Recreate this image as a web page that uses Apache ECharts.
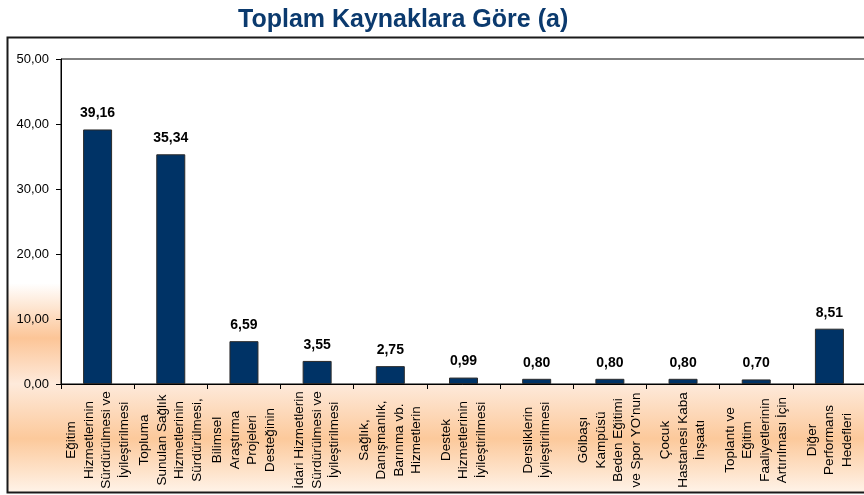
<!DOCTYPE html>
<html>
<head>
<meta charset="utf-8">
<script src="https://cdn.jsdelivr.net/npm/echarts@6/dist/echarts.min.js"></script>
<style>
  html, body { margin: 0; padding: 0; background: #fff; }
  #chart { width: 864px; height: 495px; }
</style>
</head>
<body>
<div id="chart"></div>
<script>
// data
const categories = [
  'Eğitim\nHizmetlerinin\nSürdürülmesi ve\nİyileştirilmesi',
  'Topluma\nSunulan Sağlık\nHizmetlerinin\nSürdürülmesi,',
  'Bilimsel\nAraştırma\nProjeleri\nDesteğinin',
  'İdari Hizmetlerin\nSürdürülmesi ve\nİyileştirilmesi',
  'Sağlık,\nDanışmanlık,\nBarınma vb.\nHizmetlerin',
  'Destek\nHizmetlerinin\nİyileştirilmesi',
  'Dersliklerin\nİyileştirilmesi',
  'Gölbaşı\nKampüsü\nBeden Eğitimi\nve Spor YO\'nun',
  'Çocuk\nHastanesi Kaba\nİnşaatı',
  'Toplantı ve\nEğitim\nFaaliyetlerinin\nArtırılması İçin',
  'Diğer\nPerformans\nHedefleri'
]
const values = [39.16, 35.34, 6.59, 3.55, 2.75, 0.99, 0.80, 0.80, 0.80, 0.70, 8.51]
const yTicks = [0, 10, 20, 30, 40, 50]

const fmt = v => v.toFixed(2).replace('.', ',')
const font = "'Liberation Sans', Arial, sans-serif"

const chartInstance = echarts.init(document.getElementById('chart'))

const option = {
  animation: false,
  backgroundColor: '#fff',
  textStyle: { fontFamily: font },
  title: {
    text: 'Toplam Kaynaklara Göre (a)',
    left: 233,
    top: 3,
    textStyle: {
      fontFamily: font,
      fontSize: 25,
      fontWeight: 'bold',
      color: '#0b3a6e'
    }
  },
  // outer box with the orange band gradient
  graphic: [
    {
      type: 'rect',
      z: -10,
      silent: true,
      shape: { x: 7.5, y: 37.5, width: 880, height: 455 },
      style: {
        stroke: '#1a1a1a',
        lineWidth: 2,
        fill: new echarts.graphic.LinearGradient(0, 0, 0, 1, [
          { offset: 0, color: '#ffffff' },
          { offset: 0.54, color: '#ffffff' },
          { offset: 0.66, color: '#fcc597' },
          { offset: 0.76, color: '#feeadb' },
          { offset: 0.88, color: '#fcc99b' },
          { offset: 1, color: '#fff4ea' }
        ])
      }
    }
  ],
  grid: {
    left: 61,
    top: 59,
    width: 805,
    height: 325,
    outerBoundsMode: 'none',
    show: true,
    backgroundColor: '#fff',
    borderColor: '#000',
    borderWidth: 1
  },
  xAxis: {
    type: 'category',
    data: categories,
    axisLine: { lineStyle: { color: '#000', width: 1 } },
    axisTick: { show: true, length: 5, interval: 0, lineStyle: { color: '#000' } },
    axisLabel: {
      interval: 0,
      rotate: 90,
      align: 'center',
      verticalAlign: 'middle',
      margin: 56,
      fontSize: 13.5,
      lineHeight: 17.5,
      color: '#000',
      fontFamily: font
    }
  },
  yAxis: {
    type: 'value',
    min: yTicks[0],
    max: yTicks[yTicks.length - 1],
    interval: 10,
    axisLine: { show: true, lineStyle: { color: '#000' } },
    axisTick: { show: true, length: 5, lineStyle: { color: '#000' } },
    splitLine: { show: false },
    axisLabel: {
      formatter: v => fmt(v),
      margin: 12,
      fontSize: 13,
      color: '#000',
      fontFamily: font
    }
  },
  series: [
    {
      type: 'bar',
      data: values,
      barWidth: 29,
      itemStyle: {
        color: '#003366',
        borderColor: '#2b2b2b',
        borderWidth: 1
      },
      label: {
        show: true,
        position: 'top',
        distance: 9,
        formatter: p => fmt(p.value),
        fontSize: 14,
        fontWeight: 'bold',
        color: '#000',
        fontFamily: font
      }
    }
  ]
}

chartInstance.setOption(option)
</script>
</body>
</html>
